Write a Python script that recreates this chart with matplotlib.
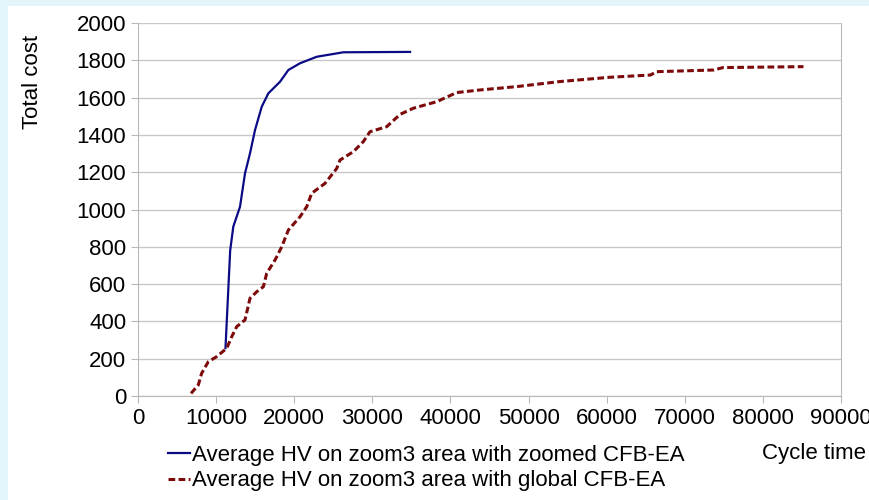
import matplotlib
matplotlib.use('Agg')
import matplotlib.pyplot as plt
from matplotlib.patches import Rectangle

plt.rcParams['font.family'] = ['Liberation Sans', 'DejaVu Sans']

# zoomed CFB-EA
zoomed_x = [11200, 11800, 12200, 13060, 13700, 14340, 14980, 15840, 16690,
            18180, 19250, 20740, 22880, 26290, 34830]
zoomed_y = [257, 780, 908, 1015, 1194, 1301, 1426, 1551, 1623,
            1685, 1748, 1784, 1819, 1843, 1845]

# global CFB-EA
global_x = [6790, 7720, 8150, 9000, 10070, 11360, 12000, 12640, 13700, 14340,
            15200, 16050, 16480, 17540, 18400, 19250, 20740, 21600, 22240, 23940,
            25440, 25860, 27570, 28850, 29700, 31840, 33550, 35250, 38240, 40800,
            43800, 48500, 54000, 60400, 65600, 66400, 73700, 74900, 85200]
global_y = [14, 59, 122, 184, 211, 256, 318, 372, 408, 524,
            559, 586, 658, 729, 800, 890, 961, 1015, 1087, 1140,
            1220, 1265, 1310, 1364, 1417, 1444, 1510, 1543, 1578, 1627,
            1641, 1659, 1686, 1709, 1721, 1739, 1748, 1761, 1766]

label_zoomed = 'Average HV on zoom3 area with zoomed CFB-EA'
label_global = 'Average HV on zoom3 area with global CFB-EA'

W, H = 870, 500
fs = 16
fig = plt.figure(figsize=(8.7, 5.0), dpi=100)
fig.patch.set_facecolor('white')
# light cyan frame strips at top and left
fig.patches.append(Rectangle((0, 1 - 6 / H), 1, 6 / H, transform=fig.transFigure,
                             facecolor='#e3f5fa', edgecolor='none', zorder=0))
fig.patches.append(Rectangle((0, 0), 8 / W, 1, transform=fig.transFigure,
                             facecolor='#e3f5fa', edgecolor='none', zorder=0))

ax = fig.add_axes([138 / W, 1 - 396 / H, (841 - 138) / W, (396 - 23) / H])
ax.plot(zoomed_x, zoomed_y, color='#0b0b85', lw=1.6, label=label_zoomed)
ax.plot(global_x, global_y, color='#7d0a0a', lw=2.2, dashes=(2.2, 1.1),
        label=label_global)

ax.set_xlim(0, 90000)
ax.set_ylim(0, 2000)
ax.set_xticks(range(0, 90001, 10000))
ax.set_yticks(range(0, 2001, 200))
ax.grid(axis='y', color='#c8c8c8', lw=1)
ax.set_axisbelow(True)
for s in ['left', 'right', 'bottom']:
    ax.spines[s].set_color('#b8b8b8')
ax.spines['top'].set_visible(False)
ax.tick_params(colors='#b8b8b8', labelcolor='black', labelsize=fs,
               length=5, direction='out')

fig.text(33 / W, 1 - 82 / H, 'Total cost', rotation=90, fontsize=fs,
         ha='center', va='center')
fig.text(866 / W, 1 - 453 / H, 'Cycle time', fontsize=fs, ha='right',
         va='center')

fig.legend(loc='upper left', bbox_to_anchor=(168 / W, 1 - 445 / H),
           frameon=False, fontsize=fs, handlelength=1.0, handletextpad=0.1,
           borderpad=0, borderaxespad=0, labelspacing=0.2)

fig.savefig('out.png', dpi=100, facecolor=fig.get_facecolor())
